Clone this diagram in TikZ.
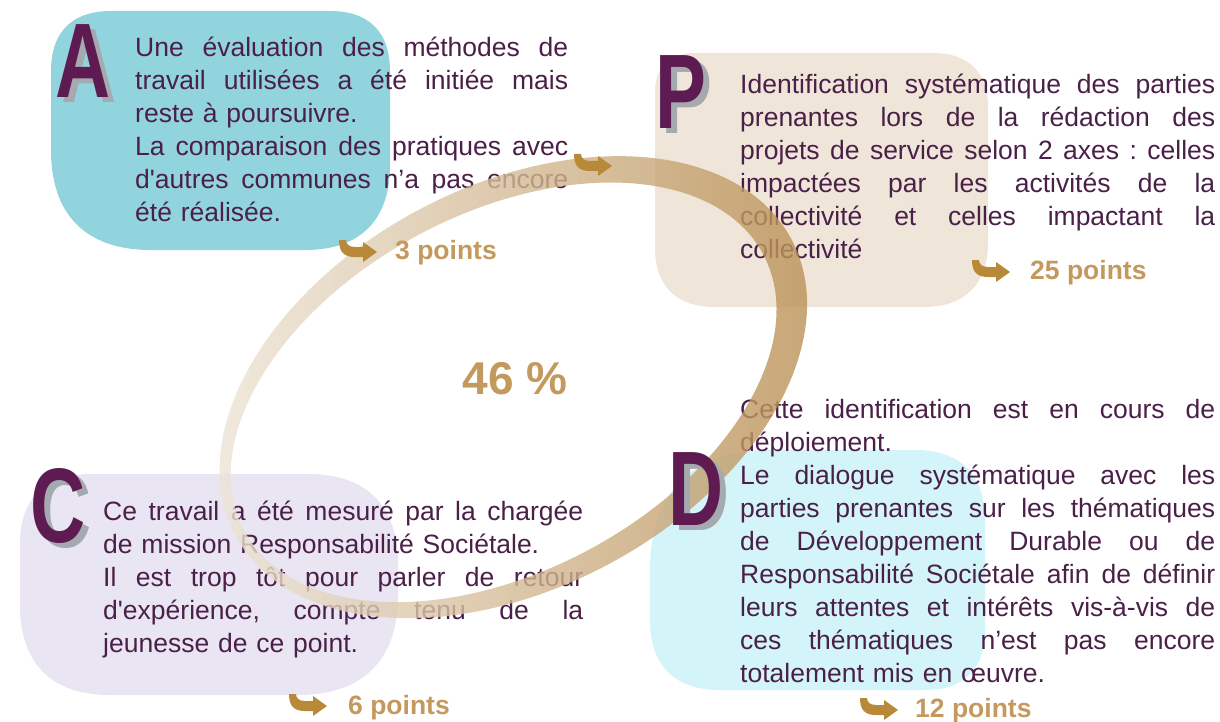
\documentclass[tikz,border=0pt]{standalone}
\usepackage{fontspec}
\newfontfamily\lsans{Liberation Sans}
\definecolor{txtc}{RGB}{75,32,72}
\definecolor{letc}{RGB}{93,27,82}
\definecolor{shadc}{RGB}{165,170,176}
\definecolor{ptsc}{RGB}{196,153,94}
\definecolor{arrowc}{RGB}{185,137,58}
\definecolor{blobA}{RGB}{146,212,221}
\definecolor{blobP}{RGB}{239,230,217}
\definecolor{blobC}{RGB}{233,229,242}
\definecolor{blobD}{RGB}{211,245,250}
\definecolor{ringL}{RGB}{240,233,221}
\definecolor{ringR}{RGB}{184,140,78}
\newlength\jw
\newcommand\jl[1]{\makebox[\jw][s]{\frenchspacing\spaceskip=0pt\xspaceskip=0pt\relax #1}}
\newcommand\bigletter[1]{\rlap{\hspace*{6pt}\raisebox{-5pt}{\textcolor{shadc}{\scalebox{0.72}[1]{#1}}}}\scalebox{0.72}[1]{#1}}
% x1 y1 x2 y2 rTL rTR rBR rBL
\newcommand\blobpath[8]{({#1+#5},#2) -- ({#3-#6},#2) .. controls ({#3-0.35*#6},#2) and (#3,{#2+0.35*#6}) .. (#3,{#2+#6})
  -- (#3,{#4-#7}) .. controls (#3,{#4-0.35*#7}) and ({#3-0.35*#7},#4) .. ({#3-#7},#4)
  -- ({#1+#8},#4) .. controls ({#1+0.35*#8},#4) and (#1,{#4-0.35*#8}) .. (#1,{#4-#8})
  -- (#1,{#2+#5}) .. controls (#1,{#2+0.35*#5}) and ({#1+0.35*#5},#2) .. ({#1+#5},#2) -- cycle}
\tikzset{
  txt/.style={anchor=north west, inner sep=0pt, text width=#1, align=left, text=txtc,
    font=\lsans\fontsize{26.5}{33}\selectfont, execute at begin node={\setlength{\jw}{#1}}},
  pts/.style={anchor=base west, inner sep=0pt, text=ptsc, font=\lsans\fontsize{26.5}{33}\selectfont\bfseries},
  bigl/.style={anchor=north west, inner sep=0pt, text=letc, font=\lsans\fontsize{106}{106}\selectfont\bfseries},
  hook/.pic={\fill[arrowc] (0,0) .. controls (0,12) and (5,17) .. (16,17) -- (24,17) -- (24,22) -- (38,12)
     -- (24,2) -- (24,7) -- (16,7) .. controls (10,7) and (7,4) .. (7,0) -- cycle;}
}
\begin{document}
\begin{tikzpicture}[x=1pt,y=-1pt]
\useasboundingbox[fill=white] (0,0) rectangle (1220,722);
% blobs
\fill[blobA] \blobpath{51}{11}{390}{250}{60}{60}{85}{100};
\fill[blobP] \blobpath{655}{53}{988}{307}{40}{55}{65}{60};
\fill[blobC] \blobpath{20}{474}{398}{695}{70}{90}{100}{90};
\fill[blobD] \blobpath{650}{450}{985}{690}{120}{70}{60}{70};
% texts
\node[txt=433pt] (tA) at (135,32.9) {\strut\jl{Une évaluation des méthodes de}\\
\jl{travail utilisées a été initiée mais}\\
reste à poursuivre.\\
\jl{La comparaison des pratiques avec}\\
\jl{d'autres communes n’a pas encore}\\
été réalisée.};
\node[txt=475pt] (tP) at (740,69.9) {\strut\jl{Identification systématique des parties}\\
\jl{prenantes lors de la rédaction des}\\
\jl{projets de service selon 2 axes : celles}\\
\jl{impactées par les activités de la}\\
\jl{collectivité et celles impactant la}\\
collectivité};
\node[txt=480pt] (tC) at (103,496.9) {\strut\jl{Ce travail a été mesuré par la chargée}\\
de mission Responsabilité Sociétale.\\
\jl{Il est trop tôt pour parler de retour}\\
\jl{d'expérience, compte tenu de la}\\
jeunesse de ce point.};
\node[txt=475pt] (tD) at (740,394.9) {\strut\jl{Cette identification est en cours de}\\
déploiement.\\
\jl{Le dialogue systématique avec les}\\
\jl{parties prenantes sur les thématiques}\\
\jl{de Développement Durable ou de}\\
\jl{Responsabilité Sociétale afin de définir}\\
\jl{leurs attentes et intérêts vis-à-vis de}\\
\jl{ces thématiques n’est pas encore}\\
totalement mis en œuvre.};
% ring
\begin{scope}[rotate around={28:(508,390)}]
\shade[even odd rule, left color=ringL, right color=ringR, fill opacity=0.8]
  (514,390) ellipse [x radius=315pt, y radius=201pt]
  (503,390) ellipse [x radius=294pt, y radius=179pt];
\end{scope}
% big letters
\node[bigl] (A) at (55,24) {\bigletter{A}};
\node[bigl] (P) at (655,55) {\bigletter{P}};
\node[bigl] (C) at (30,468) {\bigletter{C}};
\node[bigl] (D) at (668,452) {\bigletter{D}};
% arrows
\pic (hring) at (574,154) {hook};
\pic (h3) at (339,240) {hook};
\pic (h25) at (972,260) {hook};
\pic (h6) at (289,694) {hook};
\pic (h12) at (860,698) {hook};
% points
\node[pts] (p3) at (395,259) {3 points};
\node[pts] (p25) at (1030,279) {25 points};
\node[pts] (p6) at (348,714) {6 points};
\node[pts] (p12) at (915,717) {12 points};
\node[anchor=base, inner sep=0pt, text=ptsc, font=\lsans\fontsize{46}{46}\selectfont\bfseries] (pct) at (515,394.5) {46 \%};
\end{tikzpicture}
\end{document}
